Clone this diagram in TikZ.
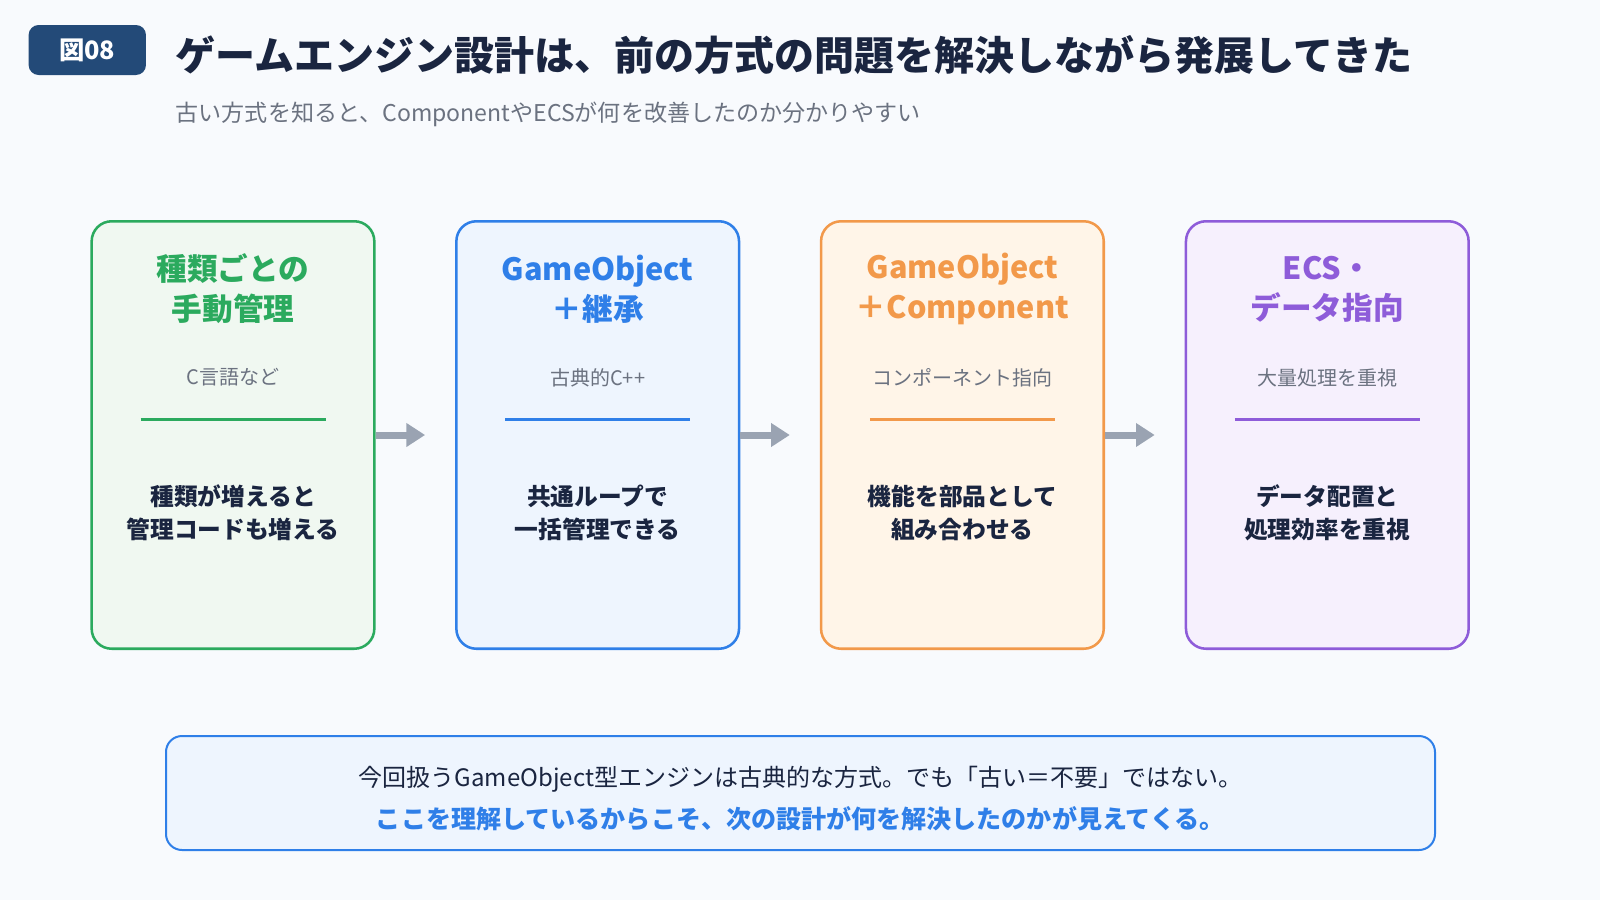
\documentclass[tikz,border=0pt]{standalone}
\usepackage{fontspec}
\setmainfont{Noto Sans CJK JP}
\usepackage{tikz}
\usetikzlibrary{arrows.meta}
\usetikzlibrary{positioning}
\definecolor{pagebg}{HTML}{F8FAFD}
\definecolor{navy}{HTML}{1A2540}
\definecolor{badgeblue}{HTML}{234A78}
\definecolor{softgray}{HTML}{6B7280}
\definecolor{arrowgray}{HTML}{9AA3B2}
\definecolor{kgreen}{HTML}{2BAA5E}
\definecolor{kgreenbg}{HTML}{F0F8F1}
\definecolor{kblue}{HTML}{2F7FE8}
\definecolor{kbluebg}{HTML}{EEF5FE}
\definecolor{korange}{HTML}{F2994A}
\definecolor{korangebg}{HTML}{FFF5E8}
\definecolor{kpurple}{HTML}{8E5CD9}
\definecolor{kpurplebg}{HTML}{F6F0FD}
\tikzset{card/.style={rectangle, rounded corners=15pt, line width=1.9pt, draw=#1, fill=#1bg, minimum width=212pt, minimum height=320.6pt, inner sep=0pt}}
\tikzset{cardtitle/.style={text=#1, font=\fontsize{23}{30}\selectfont\bfseries, align=center, inner sep=0pt}}
\tikzset{cardnote/.style={text=softgray, font=\fontsize{15}{18}\selectfont, inner sep=0pt}}
\tikzset{cardbody/.style={text=navy, font=\fontsize{17.8}{24.5}\selectfont\bfseries, align=center, inner sep=0pt}}
\tikzset{divider/.style={draw=#1, line width=2.25pt}}
\tikzset{flow/.style={draw=arrowgray, line width=5.25pt, -{Triangle[length=14pt,width=17pt]}, shorten >=22.5pt}}

\begin{document}
\begin{tikzpicture}[x=0.75pt, y=-0.75pt]
\fill[pagebg] (0,0) rectangle (1600,900);
\useasboundingbox (0,0) rectangle (1600,900);
% header
\node[rectangle, rounded corners=7.5pt, fill=badgeblue, text=white, minimum width=88pt, minimum height=37.5pt, font=\fontsize{19}{22}\selectfont\bfseries] (fig) at (87.3,50) {図08};
\node[anchor=west, inner sep=0pt, text=navy, font=\fontsize{30}{36}\selectfont\bfseries] (title) at (175.5,55) {ゲームエンジン設計は、前の方式の問題を解決しながら発展してきた};
\node[anchor=west, inner sep=0pt, text=softgray, font=\fontsize{17.3}{20}\selectfont] (sub) at (175.5,114) {古い方式を知ると、ComponentやECSが何を改善したのか分かりやすい};

% cards
\node[card=kgreen] (c1) at (233,435) {};
\node[cardtitle=kgreen] (t1) at (233,289) {種類ごとの\\手動管理};
\node[cardnote] (n1) at (233,377.5) {C言語など};
\draw[divider=kgreen] (140.5,419.5) -- (325.5,419.5);
\node[cardbody] (b1) at (233,513) {種類が増えると\\管理コードも増える};

\node[card=kblue] (c2) at (597.7,435) {};
\node[cardtitle=kblue] (t2) at (597.7,289) {GameObject\\＋継承};
\node[cardnote] (n2) at (597.7,377.5) {古典的C++};
\draw[divider=kblue] (505.2,419.5) -- (690.2,419.5);
\node[cardbody] (b2) at (597.7,513) {共通ループで\\一括管理できる};

\node[card=korange] (c3) at (962.4,435) {};
\node[cardtitle=korange] (t3) at (962.4,289) {GameObject\\＋Component};
\node[cardnote] (n3) at (962.4,377.5) {コンポーネント指向};
\draw[divider=korange] (869.9,419.5) -- (1054.9,419.5);
\node[cardbody] (b3) at (962.4,513) {機能を部品として\\組み合わせる};

\node[card=kpurple] (c4) at (1327.3,435) {};
\node[cardtitle=kpurple] (t4) at (1327.3,289) {ECS・\\データ指向};
\node[cardnote] (n4) at (1327.3,377.5) {大量処理を重視};
\draw[divider=kpurple] (1234.8,419.5) -- (1419.8,419.5);
\node[cardbody] (b4) at (1327.3,513) {データ配置と\\処理効率を重視};

\draw[flow] (c1.east) -- (c2.west);
\draw[flow] (c2.east) -- (c3.west);
\draw[flow] (c3.east) -- (c4.west);

% bottom note
\node[rectangle, rounded corners=12pt, line width=1.5pt, draw=kblue, fill=kbluebg, minimum width=951.75pt, minimum height=85.5pt] (note) at (800.5,793) {};
\node[inner sep=0pt, text=navy, font=\fontsize{18}{22}\selectfont] (l1) at (800.5,779.5) {今回扱うGameObject型エンジンは古典的な方式。でも「古い＝不要」ではない。};
\node[inner sep=0pt, text=kblue, font=\fontsize{18.8}{22}\selectfont\bfseries] (l2) at (800.5,818.5) {ここを理解しているからこそ、次の設計が何を解決したのかが見えてくる。};
\end{tikzpicture}
\end{document}
